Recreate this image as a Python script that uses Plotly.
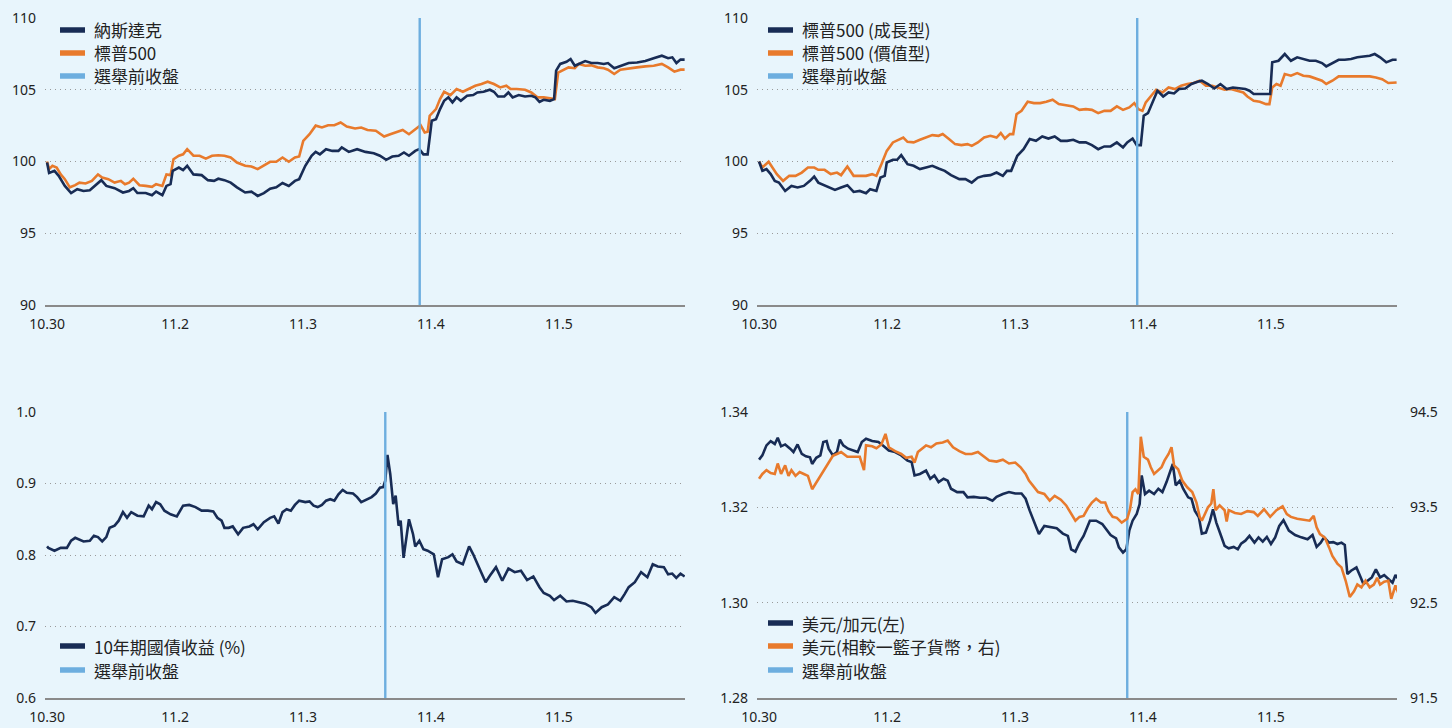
import plotly.graph_objects as go

# ---------------- data (time in trading days from 10.30 open) ----------------
tick_vals = [0, 1, 2, 3, 4]
tick_text = ["10.30", "11.2", "11.3", "11.4", "11.5"]

nasdaq_t = [0.0, 0.016, 0.058, 0.091, 0.139, 0.188, 0.236, 0.285, 0.334, 0.382, 0.424, 0.463, 0.528, 0.593, 0.641, 0.674, 0.706, 0.771, 0.820, 0.852, 0.901, 0.933, 0.965, 0.982, 1.030, 1.063, 1.095, 1.144, 1.208, 1.257, 1.305, 1.338, 1.386, 1.435, 1.484, 1.548, 1.597, 1.646, 1.694, 1.743, 1.791, 1.840, 1.889, 1.937, 1.970, 2.018, 2.067, 2.099, 2.132, 2.180, 2.229, 2.277, 2.303, 2.358, 2.423, 2.488, 2.553, 2.601, 2.650, 2.698, 2.747, 2.789, 2.828, 2.877, 2.909, 2.941, 2.974, 3.006, 3.039, 3.071, 3.103, 3.136, 3.168, 3.200, 3.233, 3.282, 3.330, 3.363, 3.411, 3.460, 3.492, 3.524, 3.573, 3.605, 3.638, 3.686, 3.735, 3.784, 3.816, 3.848, 3.881, 3.929, 3.962, 3.978, 4.010, 4.059, 4.091, 4.124, 4.156, 4.205, 4.253, 4.302, 4.351, 4.383, 4.432, 4.480, 4.545, 4.610, 4.675, 4.740, 4.804, 4.853, 4.886, 4.918, 4.950, 4.982]
nasdaq_v = [99.93, 99.2, 99.35, 99.0, 98.3, 97.8, 98.07, 97.95, 98.0, 98.4, 98.7, 98.3, 98.14, 97.84, 97.95, 98.14, 97.8, 97.8, 97.65, 97.9, 97.65, 98.3, 98.42, 99.35, 99.58, 99.4, 99.7, 99.1, 99.05, 98.7, 98.65, 98.8, 98.7, 98.53, 98.2, 97.84, 97.9, 97.6, 97.8, 98.1, 98.2, 98.5, 98.3, 98.65, 98.77, 99.7, 100.4, 100.67, 100.5, 100.86, 100.74, 100.74, 100.98, 100.67, 100.86, 100.67, 100.58, 100.4, 100.12, 100.35, 100.4, 100.63, 100.4, 100.74, 100.86, 100.5, 100.5, 102.84, 102.95, 103.65, 104.23, 104.47, 104.12, 104.47, 104.23, 104.58, 104.63, 104.81, 104.86, 105.0, 104.86, 104.53, 104.53, 104.81, 104.47, 104.63, 104.53, 104.58, 104.47, 104.16, 104.3, 104.23, 104.35, 106.33, 106.8, 106.95, 107.14, 106.67, 106.8, 107.0, 106.86, 106.86, 106.8, 106.86, 106.5, 106.67, 106.86, 106.9, 107.0, 107.2, 107.37, 107.2, 107.26, 106.86, 107.1, 107.1]

sp500_t = [0.0, 0.016, 0.042, 0.075, 0.107, 0.139, 0.178, 0.220, 0.253, 0.301, 0.350, 0.398, 0.431, 0.479, 0.528, 0.577, 0.609, 0.641, 0.674, 0.722, 0.771, 0.820, 0.852, 0.901, 0.933, 0.965, 0.988, 1.030, 1.063, 1.095, 1.144, 1.192, 1.241, 1.289, 1.338, 1.386, 1.435, 1.484, 1.548, 1.597, 1.646, 1.694, 1.743, 1.791, 1.840, 1.889, 1.937, 1.970, 2.002, 2.051, 2.099, 2.148, 2.196, 2.245, 2.294, 2.342, 2.407, 2.455, 2.504, 2.569, 2.634, 2.682, 2.731, 2.779, 2.828, 2.877, 2.919, 2.951, 2.974, 2.990, 3.039, 3.071, 3.103, 3.152, 3.200, 3.249, 3.298, 3.346, 3.395, 3.443, 3.492, 3.541, 3.589, 3.622, 3.670, 3.735, 3.784, 3.832, 3.881, 3.929, 3.968, 3.994, 4.027, 4.075, 4.124, 4.156, 4.205, 4.253, 4.302, 4.351, 4.383, 4.432, 4.480, 4.545, 4.610, 4.675, 4.740, 4.804, 4.853, 4.902, 4.950, 4.982]
sp500_v = [100.0, 99.47, 99.7, 99.58, 99.1, 98.77, 98.2, 98.35, 98.53, 98.47, 98.65, 99.1, 98.88, 98.77, 98.53, 98.65, 98.42, 98.53, 98.8, 98.35, 98.3, 98.23, 98.42, 98.3, 99.1, 99.05, 100.16, 100.4, 100.5, 100.86, 100.4, 100.4, 100.2, 100.4, 100.44, 100.4, 100.28, 99.93, 99.7, 99.65, 99.47, 99.74, 99.98, 99.98, 100.28, 99.98, 100.28, 100.35, 101.44, 101.9, 102.5, 102.37, 102.53, 102.53, 102.72, 102.44, 102.3, 102.37, 102.2, 102.14, 101.74, 101.9, 102.07, 102.2, 101.9, 102.26, 102.53, 102.02, 102.07, 103.19, 103.65, 104.35, 104.86, 104.63, 105.05, 104.86, 105.09, 105.28, 105.4, 105.56, 105.4, 105.16, 105.28, 105.05, 105.05, 105.0, 104.81, 104.47, 104.47, 104.4, 104.35, 106.2, 106.33, 106.56, 106.5, 106.8, 106.67, 106.7, 106.56, 106.5, 106.4, 106.1, 106.4, 106.5, 106.56, 106.63, 106.67, 106.8, 106.56, 106.26, 106.4, 106.4]

growth_t = [0.0, 0.026, 0.058, 0.091, 0.123, 0.155, 0.204, 0.253, 0.301, 0.350, 0.398, 0.431, 0.463, 0.528, 0.593, 0.641, 0.690, 0.739, 0.787, 0.836, 0.868, 0.917, 0.949, 0.982, 0.998, 1.046, 1.079, 1.111, 1.160, 1.208, 1.257, 1.305, 1.354, 1.403, 1.451, 1.500, 1.565, 1.613, 1.662, 1.710, 1.759, 1.808, 1.856, 1.905, 1.937, 1.970, 2.018, 2.067, 2.115, 2.164, 2.213, 2.261, 2.310, 2.358, 2.407, 2.455, 2.504, 2.553, 2.601, 2.650, 2.698, 2.747, 2.796, 2.844, 2.877, 2.919, 2.951, 2.983, 3.006, 3.039, 3.071, 3.113, 3.158, 3.200, 3.243, 3.282, 3.330, 3.379, 3.427, 3.460, 3.508, 3.557, 3.605, 3.654, 3.703, 3.751, 3.800, 3.832, 3.865, 3.913, 3.962, 3.994, 4.010, 4.059, 4.108, 4.156, 4.205, 4.253, 4.302, 4.351, 4.399, 4.432, 4.480, 4.529, 4.577, 4.626, 4.675, 4.723, 4.772, 4.811, 4.853, 4.901, 4.950, 4.982]
growth_v = [100.0, 99.35, 99.47, 99.12, 98.65, 98.53, 97.95, 98.3, 98.19, 98.3, 98.65, 98.95, 98.53, 98.3, 98.02, 98.19, 98.35, 97.88, 97.95, 97.79, 98.07, 97.95, 98.88, 99.0, 99.93, 100.12, 100.12, 100.44, 99.81, 99.7, 99.47, 99.58, 99.7, 99.51, 99.35, 99.05, 98.77, 98.77, 98.53, 98.88, 99.0, 99.05, 99.23, 99.0, 99.35, 99.35, 100.4, 100.86, 101.56, 101.44, 101.74, 101.6, 101.74, 101.44, 101.44, 101.51, 101.33, 101.33, 101.14, 100.86, 101.05, 101.05, 101.33, 100.98, 101.33, 101.6, 101.14, 101.14, 103.19, 103.37, 104.0, 104.93, 104.53, 104.81, 104.74, 105.05, 105.09, 105.4, 105.56, 105.63, 105.4, 105.09, 105.4, 105.05, 105.16, 105.09, 105.05, 104.93, 104.7, 104.7, 104.7, 104.7, 106.91, 107.02, 107.49, 107.02, 107.26, 107.14, 107.02, 107.02, 106.86, 106.63, 106.86, 107.09, 107.09, 107.14, 107.26, 107.33, 107.37, 107.49, 107.26, 106.91, 107.09, 107.09]

value_t = [0.0, 0.026, 0.075, 0.107, 0.139, 0.188, 0.236, 0.285, 0.334, 0.382, 0.431, 0.463, 0.512, 0.560, 0.609, 0.641, 0.690, 0.739, 0.787, 0.836, 0.884, 0.917, 0.956, 0.998, 1.046, 1.095, 1.127, 1.160, 1.208, 1.257, 1.305, 1.354, 1.403, 1.435, 1.484, 1.532, 1.581, 1.629, 1.662, 1.710, 1.759, 1.808, 1.856, 1.889, 1.921, 1.960, 1.986, 2.012, 2.051, 2.099, 2.148, 2.196, 2.245, 2.294, 2.342, 2.407, 2.455, 2.504, 2.553, 2.601, 2.650, 2.698, 2.747, 2.796, 2.844, 2.893, 2.932, 2.964, 2.996, 3.022, 3.061, 3.103, 3.152, 3.200, 3.249, 3.298, 3.346, 3.395, 3.443, 3.492, 3.541, 3.589, 3.638, 3.686, 3.735, 3.784, 3.816, 3.865, 3.913, 3.962, 3.988, 4.010, 4.043, 4.075, 4.108, 4.156, 4.205, 4.253, 4.302, 4.351, 4.399, 4.432, 4.480, 4.529, 4.577, 4.626, 4.675, 4.723, 4.772, 4.820, 4.869, 4.917, 4.982]
value_v = [100.0, 99.58, 99.98, 99.58, 99.12, 98.65, 99.0, 99.0, 99.23, 99.58, 99.58, 99.42, 99.42, 99.12, 99.23, 99.05, 99.65, 99.0, 99.0, 99.0, 99.12, 99.0, 99.81, 100.74, 101.33, 101.56, 101.67, 101.37, 101.33, 101.51, 101.67, 101.84, 101.79, 101.91, 101.56, 101.21, 101.14, 101.21, 101.09, 101.33, 101.67, 101.79, 101.67, 101.98, 101.6, 101.91, 101.91, 103.3, 103.53, 104.16, 104.07, 104.07, 104.16, 104.3, 104.0, 103.88, 103.84, 103.6, 103.65, 103.6, 103.37, 103.53, 103.53, 103.84, 103.6, 103.77, 104.07, 103.65, 103.53, 104.12, 104.53, 105.0, 104.81, 105.16, 105.05, 105.28, 105.4, 105.47, 105.63, 105.28, 105.28, 105.16, 105.0, 105.05, 104.93, 104.81, 104.53, 104.23, 104.16, 104.0, 104.0, 105.16, 105.4, 105.28, 106.09, 105.98, 106.16, 105.98, 105.93, 105.79, 105.63, 105.4, 105.63, 105.93, 105.93, 105.98, 105.93, 105.98, 105.93, 105.86, 105.74, 105.47, 105.51]

ust10_t = [0.0, 0.010, 0.058, 0.107, 0.155, 0.188, 0.220, 0.253, 0.285, 0.334, 0.366, 0.398, 0.431, 0.463, 0.489, 0.528, 0.560, 0.593, 0.625, 0.658, 0.706, 0.755, 0.794, 0.820, 0.852, 0.884, 0.917, 0.965, 1.014, 1.063, 1.111, 1.160, 1.208, 1.257, 1.299, 1.331, 1.364, 1.386, 1.419, 1.451, 1.493, 1.532, 1.581, 1.613, 1.646, 1.694, 1.743, 1.775, 1.808, 1.840, 1.872, 1.905, 1.937, 1.970, 2.018, 2.051, 2.083, 2.115, 2.148, 2.180, 2.213, 2.245, 2.277, 2.310, 2.342, 2.391, 2.423, 2.455, 2.488, 2.536, 2.569, 2.601, 2.627, 2.643, 2.660, 2.682, 2.705, 2.724, 2.747, 2.763, 2.786, 2.805, 2.828, 2.860, 2.877, 2.909, 2.941, 2.974, 3.022, 3.055, 3.087, 3.136, 3.168, 3.200, 3.249, 3.298, 3.330, 3.379, 3.427, 3.460, 3.508, 3.557, 3.605, 3.654, 3.703, 3.751, 3.800, 3.848, 3.881, 3.929, 3.962, 4.010, 4.059, 4.108, 4.156, 4.205, 4.253, 4.286, 4.334, 4.383, 4.432, 4.480, 4.512, 4.545, 4.593, 4.642, 4.691, 4.733, 4.772, 4.820, 4.853, 4.885, 4.917, 4.950, 4.982]
ust10_v = [0.812, 0.810, 0.806, 0.810, 0.810, 0.820, 0.824, 0.821, 0.819, 0.820, 0.827, 0.825, 0.819, 0.825, 0.838, 0.841, 0.848, 0.860, 0.852, 0.860, 0.855, 0.854, 0.869, 0.864, 0.874, 0.871, 0.862, 0.857, 0.854, 0.869, 0.870, 0.867, 0.862, 0.862, 0.861, 0.852, 0.848, 0.838, 0.838, 0.840, 0.829, 0.838, 0.840, 0.843, 0.836, 0.846, 0.852, 0.854, 0.844, 0.860, 0.864, 0.862, 0.870, 0.876, 0.874, 0.875, 0.869, 0.867, 0.870, 0.876, 0.878, 0.876, 0.885, 0.891, 0.887, 0.886, 0.881, 0.874, 0.877, 0.881, 0.886, 0.894, 0.895, 0.904, 0.940, 0.913, 0.871, 0.883, 0.841, 0.848, 0.796, 0.820, 0.850, 0.829, 0.812, 0.820, 0.808, 0.806, 0.801, 0.769, 0.794, 0.797, 0.801, 0.791, 0.787, 0.812, 0.801, 0.781, 0.762, 0.771, 0.783, 0.764, 0.781, 0.776, 0.778, 0.765, 0.770, 0.755, 0.747, 0.743, 0.737, 0.743, 0.735, 0.736, 0.734, 0.732, 0.727, 0.719, 0.727, 0.731, 0.741, 0.736, 0.745, 0.755, 0.762, 0.776, 0.769, 0.787, 0.784, 0.783, 0.773, 0.774, 0.768, 0.774, 0.770]

usdcad_t = [0.0, 0.026, 0.058, 0.091, 0.123, 0.146, 0.172, 0.204, 0.243, 0.269, 0.301, 0.334, 0.366, 0.398, 0.415, 0.447, 0.479, 0.502, 0.528, 0.544, 0.577, 0.609, 0.632, 0.658, 0.696, 0.739, 0.771, 0.803, 0.836, 0.884, 0.933, 0.975, 1.014, 1.063, 1.111, 1.160, 1.192, 1.215, 1.257, 1.305, 1.338, 1.370, 1.403, 1.442, 1.474, 1.500, 1.548, 1.597, 1.629, 1.678, 1.727, 1.775, 1.824, 1.856, 1.905, 1.953, 2.002, 2.051, 2.083, 2.115, 2.148, 2.187, 2.229, 2.277, 2.326, 2.374, 2.413, 2.439, 2.472, 2.504, 2.536, 2.585, 2.634, 2.682, 2.715, 2.747, 2.789, 2.812, 2.844, 2.870, 2.893, 2.919, 2.951, 2.974, 2.990, 3.016, 3.048, 3.087, 3.120, 3.152, 3.184, 3.217, 3.233, 3.256, 3.288, 3.314, 3.353, 3.379, 3.405, 3.437, 3.460, 3.492, 3.524, 3.547, 3.573, 3.605, 3.638, 3.670, 3.709, 3.741, 3.767, 3.800, 3.832, 3.871, 3.903, 3.936, 3.968, 4.000, 4.033, 4.065, 4.098, 4.140, 4.189, 4.237, 4.286, 4.325, 4.357, 4.389, 4.415, 4.454, 4.487, 4.519, 4.551, 4.577, 4.597, 4.626, 4.668, 4.700, 4.723, 4.755, 4.788, 4.820, 4.853, 4.885, 4.917, 4.950, 4.973, 4.998]
usdcad_v = [1.3300, 1.3309, 1.3330, 1.3339, 1.3333, 1.3346, 1.3328, 1.3332, 1.3323, 1.3316, 1.3332, 1.3312, 1.3307, 1.3305, 1.3291, 1.3304, 1.3309, 1.3337, 1.3339, 1.3323, 1.3309, 1.3316, 1.3342, 1.3330, 1.3323, 1.3319, 1.3316, 1.3337, 1.3344, 1.3339, 1.3337, 1.3328, 1.3319, 1.3316, 1.3309, 1.3298, 1.3295, 1.3267, 1.3270, 1.3277, 1.3260, 1.3267, 1.3253, 1.3260, 1.3256, 1.3239, 1.3232, 1.3232, 1.3221, 1.3222, 1.3220, 1.3220, 1.3214, 1.3222, 1.3228, 1.3232, 1.3229, 1.3229, 1.3218, 1.3193, 1.3172, 1.3144, 1.3161, 1.3159, 1.3156, 1.3145, 1.3140, 1.3112, 1.3107, 1.3126, 1.3140, 1.3172, 1.3172, 1.3165, 1.3154, 1.3142, 1.3135, 1.3116, 1.3105, 1.3112, 1.3151, 1.3172, 1.3186, 1.3207, 1.3267, 1.3228, 1.3235, 1.3228, 1.3239, 1.3232, 1.3253, 1.3277, 1.3291, 1.3246, 1.3256, 1.3239, 1.3221, 1.3218, 1.3193, 1.3179, 1.3145, 1.3147, 1.3172, 1.3196, 1.3168, 1.3144, 1.3119, 1.3114, 1.3117, 1.3112, 1.3124, 1.3130, 1.3140, 1.3126, 1.3137, 1.3128, 1.3138, 1.3123, 1.3137, 1.3161, 1.3173, 1.3151, 1.3142, 1.3137, 1.3133, 1.3142, 1.3117, 1.3126, 1.3137, 1.3126, 1.3127, 1.3123, 1.3126, 1.3121, 1.3060, 1.3067, 1.3074, 1.3054, 1.3039, 1.3046, 1.3053, 1.3070, 1.3053, 1.3058, 1.3049, 1.3042, 1.3058, 1.3049]

dxy_t = [0.0, 0.026, 0.058, 0.091, 0.123, 0.146, 0.172, 0.204, 0.230, 0.253, 0.285, 0.317, 0.350, 0.382, 0.415, 0.447, 0.479, 0.512, 0.544, 0.577, 0.609, 0.641, 0.690, 0.739, 0.787, 0.820, 0.836, 0.884, 0.917, 0.956, 0.988, 1.014, 1.063, 1.111, 1.150, 1.192, 1.215, 1.241, 1.273, 1.305, 1.344, 1.386, 1.435, 1.474, 1.516, 1.565, 1.613, 1.662, 1.710, 1.753, 1.798, 1.856, 1.905, 1.953, 2.002, 2.044, 2.083, 2.109, 2.141, 2.180, 2.229, 2.271, 2.310, 2.358, 2.400, 2.439, 2.472, 2.504, 2.536, 2.569, 2.601, 2.634, 2.672, 2.705, 2.731, 2.763, 2.796, 2.834, 2.877, 2.899, 2.919, 2.941, 2.964, 2.983, 3.006, 3.039, 3.061, 3.087, 3.120, 3.145, 3.168, 3.200, 3.223, 3.243, 3.275, 3.307, 3.346, 3.385, 3.418, 3.443, 3.460, 3.482, 3.508, 3.534, 3.550, 3.567, 3.599, 3.638, 3.654, 3.670, 3.719, 3.767, 3.816, 3.865, 3.897, 3.946, 3.994, 4.043, 4.091, 4.124, 4.156, 4.205, 4.253, 4.302, 4.334, 4.357, 4.383, 4.422, 4.454, 4.480, 4.519, 4.551, 4.584, 4.616, 4.649, 4.675, 4.707, 4.739, 4.772, 4.804, 4.830, 4.853, 4.885, 4.917, 4.940, 4.973, 4.998]
dxy_v = [93.80, 93.85, 93.89, 93.86, 93.85, 93.96, 93.85, 93.94, 93.83, 93.89, 93.83, 93.87, 93.85, 93.83, 93.69, 93.76, 93.83, 93.89, 93.97, 94.04, 94.06, 94.08, 94.03, 94.03, 94.03, 93.89, 94.15, 94.14, 94.12, 94.16, 94.27, 94.13, 94.09, 94.06, 94.02, 94.03, 93.97, 94.08, 94.12, 94.15, 94.13, 94.17, 94.18, 94.20, 94.13, 94.09, 94.06, 94.06, 94.08, 94.04, 93.99, 93.98, 94.00, 93.96, 93.97, 93.92, 93.85, 93.78, 93.72, 93.66, 93.64, 93.57, 93.62, 93.58, 93.52, 93.44, 93.36, 93.40, 93.41, 93.49, 93.55, 93.59, 93.55, 93.55, 93.46, 93.40, 93.39, 93.34, 93.38, 93.48, 93.66, 93.69, 93.64, 94.24, 94.03, 94.00, 93.92, 93.85, 93.89, 93.92, 93.99, 94.06, 94.13, 93.94, 93.90, 93.78, 93.71, 93.66, 93.55, 93.40, 93.36, 93.43, 93.50, 93.54, 93.69, 93.47, 93.52, 93.47, 93.35, 93.47, 93.44, 93.43, 93.46, 93.45, 93.41, 93.48, 93.40, 93.47, 93.51, 93.43, 93.40, 93.38, 93.37, 93.36, 93.41, 93.29, 93.22, 93.18, 93.08, 92.99, 92.91, 92.87, 92.73, 92.56, 92.62, 92.69, 92.66, 92.73, 92.66, 92.69, 92.76, 92.69, 92.72, 92.73, 92.54, 92.68, 92.59]

# election-eve close marker per panel (trading-day position)
eve_close = [2.912, 2.955, 2.643, 2.877]

# legend labels per panel
legend_p1 = ["納斯達克", "標普500", "選舉前收盤"]
legend_p2 = ["標普500 (成長型)", "標普500 (價值型)", "選舉前收盤"]
legend_p3 = ["10年期國債收益 (%)", "選舉前收盤"]
legend_p4 = ["美元/加元(左)", "美元(相較一籃子貨幣，右)", "選舉前收盤"]

# ---------------- style ----------------
NAVY = "#182C55"
ORANGE = "#E87A2C"
LBLUE = "#6DAEDF"
BG = "#E8F5FC"
FONT = "Noto Sans CJK TC, Noto Sans, sans-serif"
NUMFONT = "Noto Sans, sans-serif"
W, H = 1452, 728

def px(x0, x1):
    return [x0 / W, x1 / W]

def py(ytop, ybot):
    return [1 - ybot / H, 1 - ytop / H]

XR = [-0.016, 4.985]

fig = go.Figure()

def line(x, y, color, xa, ya, w=2.6):
    fig.add_trace(go.Scatter(x=x, y=y, mode="lines", line=dict(color=color, width=w),
                             xaxis=xa, yaxis=ya, showlegend=False, hoverinfo="skip"))

def vline(t, lo, hi, xa, ya):
    fig.add_trace(go.Scatter(x=[t, t], y=[lo, hi], mode="lines", line=dict(color=LBLUE, width=2.4),
                             xaxis=xa, yaxis=ya, showlegend=False, hoverinfo="skip"))

# panel 1
line(sp500_t, sp500_v, ORANGE, "x", "y")
line(nasdaq_t, nasdaq_v, NAVY, "x", "y")
vline(eve_close[0], 90, 110, "x", "y")
# panel 2
line(value_t, value_v, ORANGE, "x2", "y2")
line(growth_t, growth_v, NAVY, "x2", "y2")
vline(eve_close[1], 90, 110, "x2", "y2")
# panel 3
line(ust10_t, ust10_v, NAVY, "x3", "y3")
vline(eve_close[2], 0.6, 1.0, "x3", "y3")
# panel 4
line(dxy_t, dxy_v, ORANGE, "x4", "y5")
line(usdcad_t, usdcad_v, NAVY, "x4", "y4")
vline(eve_close[3], 1.28, 1.34, "x4", "y4")

# ---------------- legends (key swatch + text) ----------------
legfont = dict(family=FONT, size=17, color="#222222")
shapes, annots = [], []

def legend_block(labels, colors, key_x0, rows_y):
    for lab, col, yy in zip(labels, colors, rows_y):
        shapes.append(dict(type="line", xref="paper", yref="paper",
                           x0=key_x0 / W, x1=(key_x0 + 25) / W,
                           y0=1 - yy / H, y1=1 - yy / H,
                           line=dict(color=col, width=5.5)))
        annots.append(dict(text=lab, xref="paper", yref="paper", x=(key_x0 + 33) / W,
                           y=1 - yy / H, xanchor="left", yanchor="middle", showarrow=False,
                           font=legfont, borderpad=0))

legend_block(legend_p1, [NAVY, ORANGE, LBLUE], 60, [30, 53, 76])
legend_block(legend_p2, [NAVY, ORANGE, LBLUE], 768, [30, 53, 76])
legend_block(legend_p3, [NAVY, LBLUE], 60, [646, 670])
legend_block(legend_p4, [NAVY, ORANGE, LBLUE], 768, [623, 646, 670])

tickfont = dict(family=NUMFONT, size=14, color="#222222")

def xax(dom, anchor):
    return dict(domain=dom, anchor=anchor, range=XR, tickvals=tick_vals, ticktext=tick_text,
                showgrid=False, zeroline=False, showline=True, linecolor="#8A8A8A", linewidth=1.5,
                ticks="", tickfont=tickfont, ticklabelstandoff=5, fixedrange=True, automargin=False)

def yax(dom, anchor, rng, dtick, fmt, side="left", overlaying=None, standoff=8):
    d = dict(domain=dom, anchor=anchor, range=rng, dtick=dtick, tick0=rng[0], tickformat=fmt,
             showgrid=True, gridcolor="#9A9A9A", griddash="1px,4px", gridwidth=1.3,
             zeroline=False, showline=False, ticks="", tickfont=tickfont, side=side,
             ticklabelstandoff=standoff, fixedrange=True, automargin=False)
    if overlaying:
        d["overlaying"] = overlaying
        d["showgrid"] = False
    return d

top_y = py(18, 305)
bot_y = py(412, 698)
left_x = px(45, 685)
right_x = px(757, 1397)

fig.update_layout(
    width=W, height=H, margin=dict(l=0, r=0, t=0, b=0, autoexpand=False),
    paper_bgcolor=BG, plot_bgcolor=BG, font=dict(family=FONT),
    xaxis=xax(left_x, "y"), yaxis=yax(top_y, "x", [90, 110], 5, "d"),
    xaxis2=xax(right_x, "y2"), yaxis2=yax(top_y, "x2", [90, 110], 5, "d"),
    xaxis3=xax(left_x, "y3"), yaxis3=yax(bot_y, "x3", [0.6, 1.0], 0.1, ".1f"),
    xaxis4=xax(right_x, "y4"), yaxis4=yax(bot_y, "x4", [1.28, 1.34], 0.02, ".2f"),
    yaxis5=yax(bot_y, "x4", [91.5, 94.5], 1.0, ".1f", side="right", overlaying="y4", standoff=12),
    shapes=shapes, annotations=annots,
    showlegend=False,
)

fig.write_html("out.html", config={"displayModeBar": False},
               post_script="document.body.style.margin='0px';document.body.style.padding='0px';")
